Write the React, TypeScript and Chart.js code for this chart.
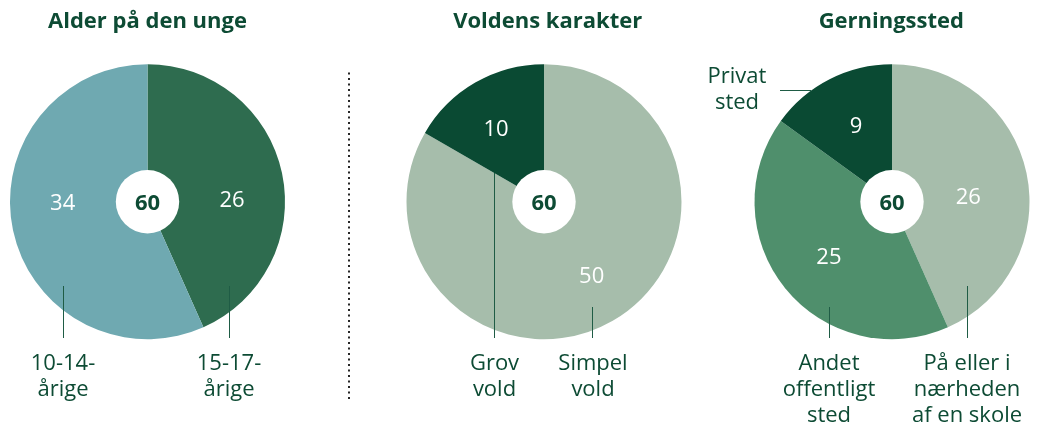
import React, { useEffect, useRef } from "react";
import { Chart, registerables } from "chart.js";

Chart.register(...registerables);

// ---------- data ----------
const ageTitle = "Alder på den unge";
const ageLabels = [["15-17-", "årige"], ["10-14-", "årige"]];
const ageValues = [26, 34];
const ageColors = ["#2e6c4f", "#6fa9b1"];

const violenceTitle = "Voldens karakter";
const violenceLabels = [["Simpel", "vold"], ["Grov", "vold"]];
const violenceValues = [50, 10];
const violenceColors = ["#a6bdab", "#0a4a33"];

const placeTitle = "Gerningssted";
const placeLabels = [["På eller i", "nærheden", "af en skole"], ["Andet", "offentligt", "sted"], ["Privat", "sted"]];
const placeValues = [26, 25, 9];
const placeColors = ["#a6bdab", "#4f8f6c", "#0a4a33"];

// ---------- style / layout ----------
const W = 1038;
const H = 428;
const PANEL_W = 346;
const CY = 201.7;
const R = 137.5;
const HOLE_R = 31.7;
const TEXT = "#0d4b34";
const LINE = "#1f5c45";
const FONT = "'Open Sans', sans-serif";
const FS = 22;
const LINE_H = 26.2;

type Spot = { a: number; f: number };
type Callout = { line: [number, number, number, number]; tx: number; ty: number };
type Panel = {
  title: string;
  labels: string[][];
  values: number[];
  colors: string[];
  left: number;
  cx: number;
  titleX: number;
  spots: Spot[];
  callouts: Callout[];
  divider?: boolean;
};

const panels: Panel[] = [
  {
    title: ageTitle,
    labels: ageLabels,
    values: ageValues,
    colors: ageColors,
    left: 0,
    cx: 147.5,
    titleX: 147.5,
    spots: [{ a: 88, f: 0.615 }, { a: 270, f: 0.617 }],
    callouts: [
      { line: [229, 286, 229, 338], tx: 229, ty: 370 },
      { line: [63, 286, 63, 338], tx: 63, ty: 370 },
    ],
  },
  {
    title: violenceTitle,
    labels: violenceLabels,
    values: violenceValues,
    colors: violenceColors,
    left: 346,
    cx: 544,
    titleX: 547.7,
    spots: [{ a: 147, f: 0.636 }, { a: -33, f: 0.64 }],
    callouts: [
      { line: [592, 307, 592, 338], tx: 593, ty: 370 },
      { line: [494, 173, 494, 338], tx: 494.5, ty: 370 },
    ],
    divider: true,
  },
  {
    title: placeTitle,
    labels: placeLabels,
    values: placeValues,
    colors: placeColors,
    left: 692,
    cx: 892,
    titleX: 891.3,
    spots: [{ a: 86, f: 0.556 }, { a: 229, f: 0.608 }, { a: -25, f: 0.617 }],
    callouts: [
      { line: [967, 286, 967, 338], tx: 967, ty: 370 },
      { line: [829, 307, 829, 338], tx: 829, ty: 370 },
      { line: [780, 90.5, 811, 90.5], tx: 737, ty: 82.5 },
    ],
  },
];

function overlayPlugin(panel: Panel) {
  return {
    id: "overlay",
    afterDraw(chart: any) {
      const ctx: CanvasRenderingContext2D = chart.ctx;
      const meta = chart.getDatasetMeta(0);
      const first: any = meta.data[0];
      const cx = first.x;
      const cy = first.y;
      const r = first.outerRadius;
      const off = panel.left;
      const capHalf = FS * 0.357;
      ctx.save();

      // centre hole + total
      ctx.beginPath();
      ctx.arc(cx, cy, HOLE_R, 0, Math.PI * 2);
      ctx.fillStyle = "#ffffff";
      ctx.fill();
      const total = panel.values.reduce((s, v) => s + v, 0);
      ctx.font = `bold ${FS}px ${FONT}`;
      ctx.textAlign = "center";
      ctx.textBaseline = "alphabetic";
      ctx.fillStyle = TEXT;
      ctx.fillText(String(total), cx, cy + capHalf);

      // values in slices
      ctx.font = `${FS}px ${FONT}`;
      ctx.fillStyle = "#ffffff";
      meta.data.forEach((arc: any, i: number) => {
        const spot = panel.spots[i];
        const ang = spot ? ((spot.a - 90) * Math.PI) / 180 : (arc.startAngle + arc.endAngle) / 2;
        const f = spot ? spot.f : 0.62;
        const x = cx + Math.cos(ang) * r * f;
        const y = cy + Math.sin(ang) * r * f;
        ctx.fillText(String(panel.values[i]), x, y + capHalf);
      });

      // callouts
      ctx.strokeStyle = LINE;
      ctx.lineWidth = 1;
      ctx.fillStyle = TEXT;
      ctx.font = `${FS}px ${FONT}`;
      panel.callouts.forEach((c, i) => {
        const [x1, y1, x2, y2] = c.line;
        const crispX = (v: number) => Math.round(v - off) + 0.5;
        ctx.beginPath();
        if (x1 === x2) {
          ctx.moveTo(crispX(x1), y1);
          ctx.lineTo(crispX(x2), y2);
        } else {
          ctx.moveTo(x1 - off, y1);
          ctx.lineTo(x2 - off, y2);
        }
        ctx.stroke();
        panel.labels[i].forEach((t, j) => {
          ctx.fillText(t, c.tx - off, c.ty + j * LINE_H);
        });
      });

      // title
      ctx.font = `bold ${FS}px ${FONT}`;
      ctx.fillStyle = TEXT;
      ctx.fillText(panel.title, panel.titleX - off, 27.5);

      // dotted divider
      if (panel.divider) {
        ctx.strokeStyle = "#262626";
        ctx.lineWidth = 2;
        ctx.lineCap = "butt";
        ctx.setLineDash([2, 3.5]);
        ctx.beginPath();
        ctx.moveTo(349 - off, 72.5);
        ctx.lineTo(349 - off, 399);
        ctx.stroke();
      }
      ctx.restore();
    },
  };
}

function PiePanel({ panel }: { panel: Panel }) {
  const ref = useRef<HTMLCanvasElement>(null);
  useEffect(() => {
    const canvas = ref.current!;
    const padding = {
      left: panel.cx - R - panel.left,
      right: panel.left + PANEL_W - (panel.cx + R),
      top: CY - R,
      bottom: H - (CY + R),
    };
    const chart = new Chart(canvas, {
      type: "pie",
      data: {
        labels: panel.labels.map((l) => l.join(" ")),
        datasets: [
          {
            data: panel.values,
            backgroundColor: panel.colors,
            borderWidth: 0,
            hoverOffset: 0,
            offset: 0,
          } as any,
        ],
      },
      options: {
        responsive: false,
        animation: false,
        events: [],
        layout: { padding },
        plugins: { legend: { display: false }, tooltip: { enabled: false } },
      },
      plugins: [overlayPlugin(panel)],
    });
    return () => chart.destroy();
  }, [panel]);
  return (
    <canvas
      ref={ref}
      width={PANEL_W}
      height={H}
      style={{ position: "absolute", left: panel.left, top: 0, width: PANEL_W, height: H }}
    />
  );
}

export default function App() {
  return (
    <div style={{ position: "absolute", left: 0, top: 0, width: W, height: H, background: "#ffffff", overflow: "hidden" }}>
      {panels.map((p, i) => (
        <PiePanel key={i} panel={p} />
      ))}
    </div>
  );
}
